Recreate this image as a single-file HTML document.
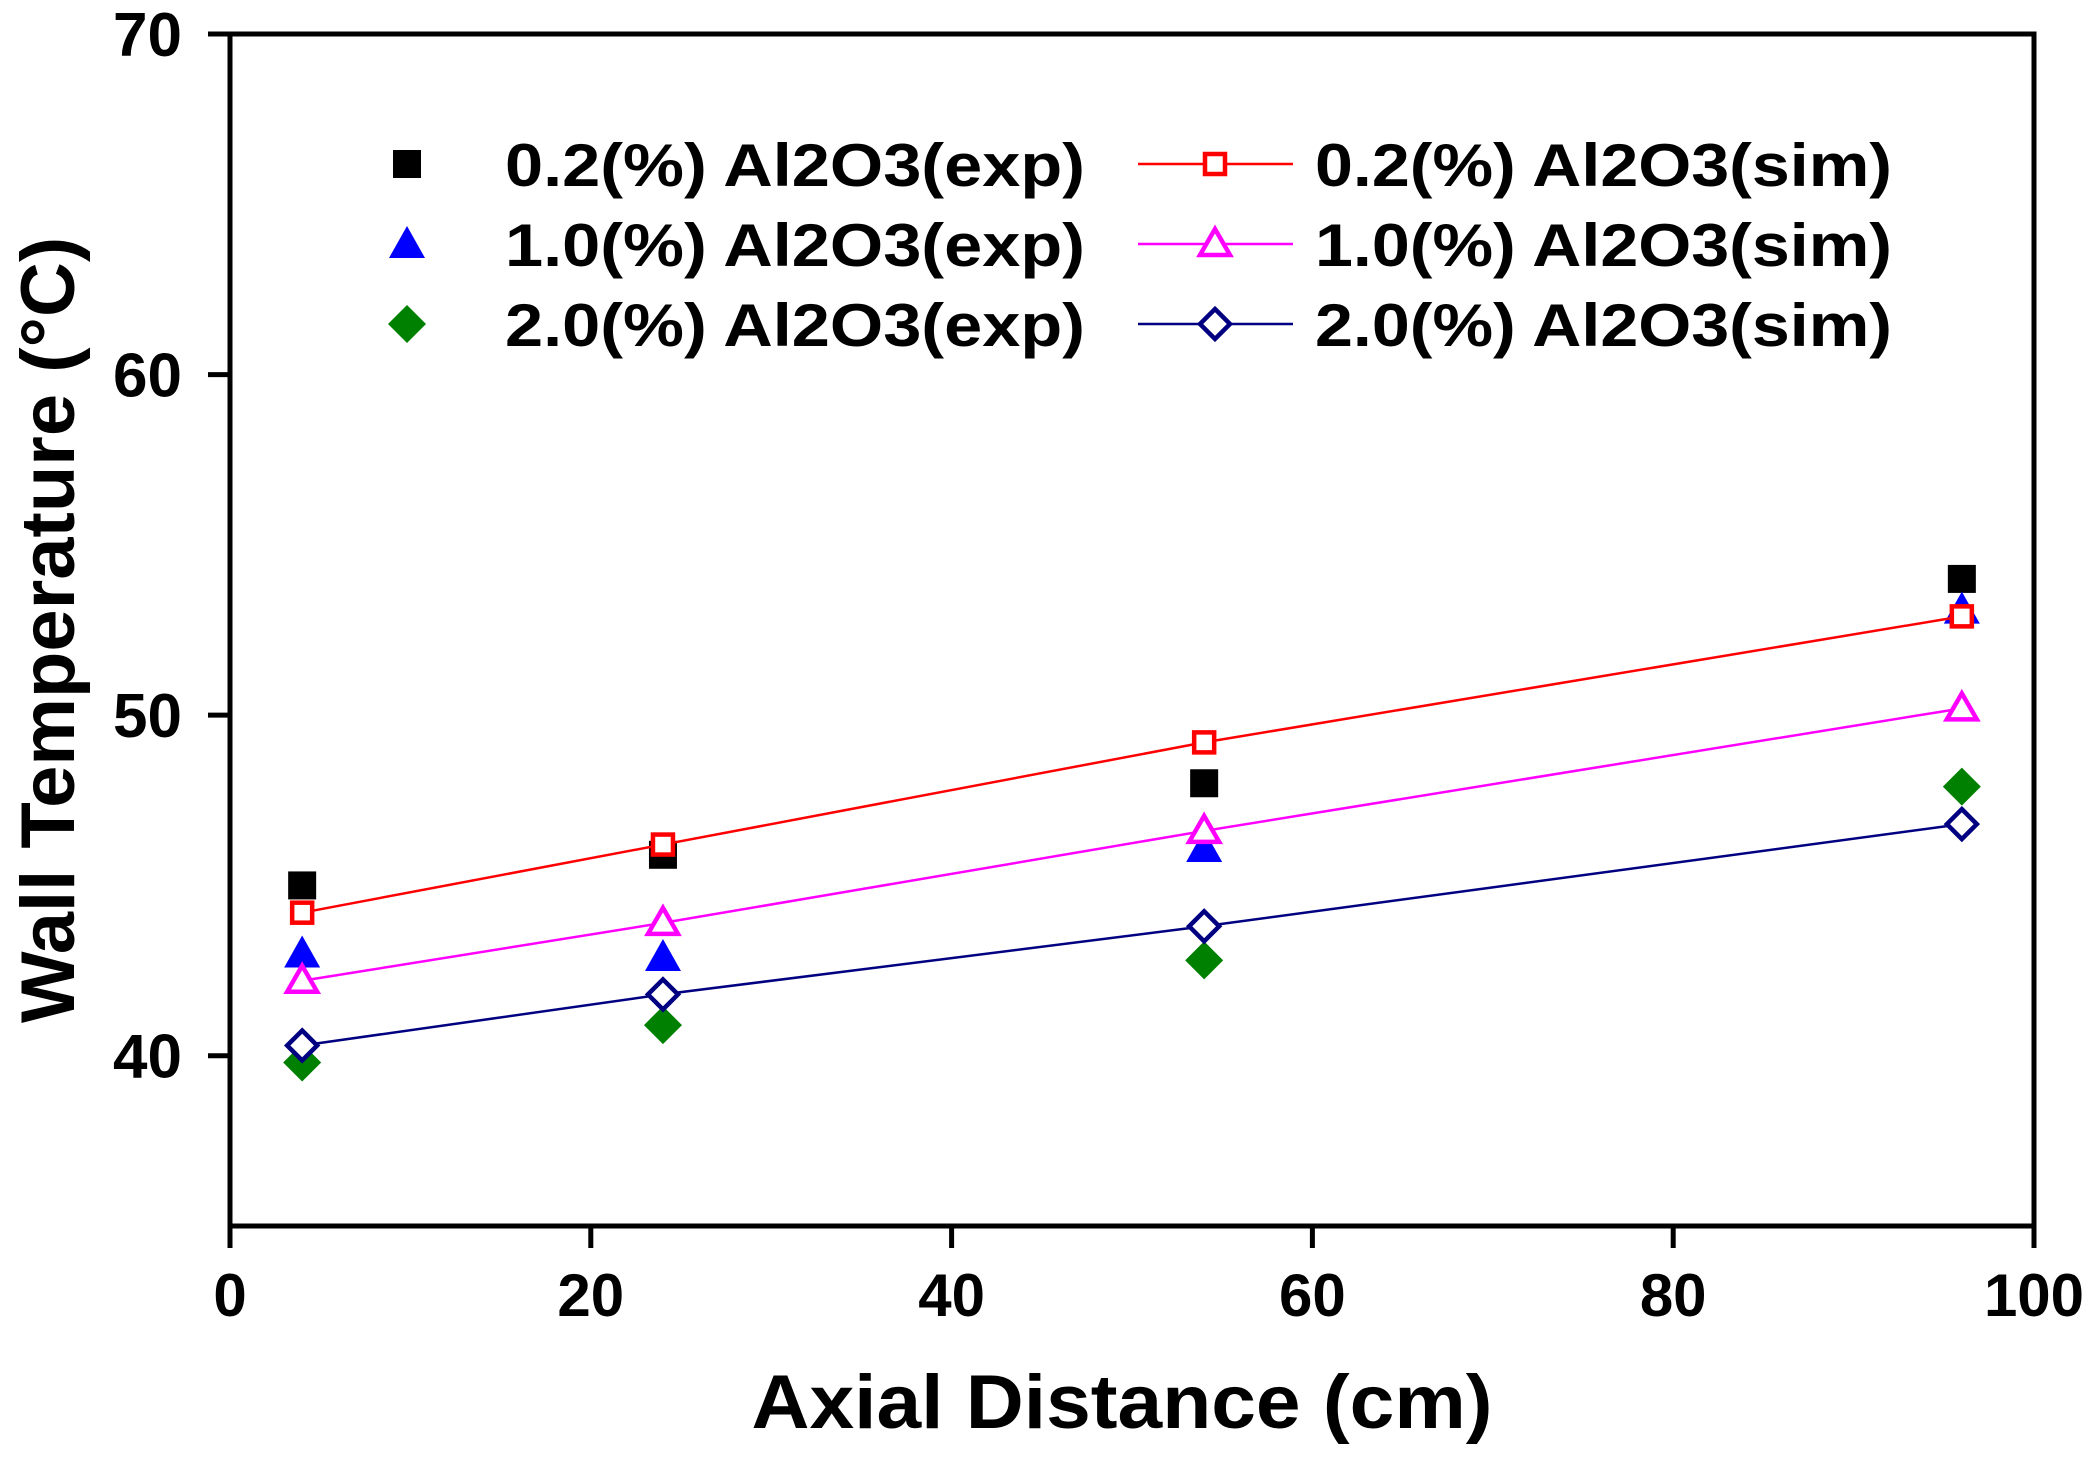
<!DOCTYPE html>
<html><head><meta charset="utf-8"><style>
html,body{margin:0;padding:0;background:#fff;}
svg text{font-family:"Liberation Sans",Arial,sans-serif;font-weight:bold;fill:#000;}
</style></head><body>
<svg id="chart" width="2094" height="1461" viewBox="0 0 2094 1461" xmlns="http://www.w3.org/2000/svg">
<g id="marks"></g>
<g id="axes"></g>
<g id="legend"></g>
</svg>
<script>
const xPositions = [4, 24, 54, 96];
const exp02 = [45.0, 45.9, 48.0, 54.0];
const exp10 = [43.0, 42.9, 46.1, 53.1];
const exp20 = [39.8, 40.9, 42.8, 47.9];
const sim02 = [44.2, 46.2, 49.2, 52.9];
const sim10 = [42.2, 43.9, 46.6, 50.2];
const sim20 = [40.3, 41.8, 43.8, 46.8];
const xTicks = [0, 20, 40, 60, 80, 100];
const yTicks = [40, 50, 60, 70];
const legendLabelsExp = ["0.2(%) Al2O3(exp)", "1.0(%) Al2O3(exp)", "2.0(%) Al2O3(exp)"];
const legendLabelsSim = ["0.2(%) Al2O3(sim)", "1.0(%) Al2O3(sim)", "2.0(%) Al2O3(sim)"];

const L=230,R=2034,T=34,B=1226,X0=0,X1=100,Y0=35,Y1=70;
const sx=v=>L+(v-X0)/(X1-X0)*(R-L);
const sy=v=>B-(v-Y0)/(Y1-Y0)*(B-T);
const NS="http://www.w3.org/2000/svg";
function mk(tag,attrs,parent){const e=document.createElementNS(NS,tag);for(const k in attrs)e.setAttribute(k,attrs[k]);parent.appendChild(e);return e;}
const marks=document.getElementById('marks'),axes=document.getElementById('axes'),legend=document.getElementById('legend');

function marker(type,cx,cy,color,filled,parent,name){
  let e;const s=14;
  if(type==='square') e=mk('rect',{x:cx-s,y:cy-s,width:2*s,height:2*s},parent);
  else if(type==='tri') e=mk('polygon',{points:`${cx},${cy-18} ${cx+18},${cy+14} ${cx-18},${cy+14}`},parent);
  else e=mk('polygon',{points:`${cx},${cy-19} ${cx+19},${cy} ${cx},${cy+19} ${cx-19},${cy}`},parent);
  if(filled){e.setAttribute('fill',color);}
  else{e.setAttribute('fill','#fff');e.setAttribute('stroke',color);e.setAttribute('stroke-width','4.5');
    if(type==='square'){e.setAttribute('x',cx-10);e.setAttribute('y',cy-10);e.setAttribute('width',20);e.setAttribute('height',20);}
    if(type==='diamond'){e.setAttribute('points',`${cx},${cy-15} ${cx+15},${cy} ${cx},${cy+15} ${cx-15},${cy}`);}
    if(type==='tri'){e.setAttribute('points',`${cx},${cy-15} ${cx+15},${cy+11} ${cx-15},${cy+11}`);}
  }
  
  
  return e;
}

const sims=[[sim02,'#ff0000','square','sim-0-2'],[sim10,'#ff00ff','tri','sim-1-0'],[sim20,'#000080','diamond','sim-2-0']];
const exps=[[exp02,'#000000','square','exp-0-2'],[exp10,'#0000ff','tri','exp-1-0'],[exp20,'#008000','diamond','exp-2-0']];
exps.forEach(([arr,c,t,n])=>{arr.forEach((v,i)=>{marker(t,sx(xPositions[i]),sy(v),c,true,marks,n+'-point');});});
sims.forEach(([arr,c,t,n])=>{
  const pl=mk('polyline',{points:arr.map((v,i)=>sx(xPositions[i])+','+sy(v)).join(' '),fill:'none',stroke:c,'stroke-width':2.5},marks);
  
  
  arr.forEach((v,i)=>{marker(t,sx(xPositions[i]),sy(v),c,false,marks,n+'-point');});
});

const frame=mk('rect',{x:L,y:T,width:R-L,height:B-T,fill:'none',stroke:'#000','stroke-width':5},axes);


xTicks.forEach(v=>{
  const x=sx(v);
  const tk=mk('line',{x1:x,y1:B,x2:x,y2:B+22,stroke:'#000','stroke-width':5},axes);
  
  
  const tx=mk('text',{x:x,y:1316,'text-anchor':'middle','font-size':60},axes);
  tx.textContent=v;
  
  
});
yTicks.forEach(v=>{
  const y=sy(v);
  const tk=mk('line',{x1:L-22,y1:y,x2:L,y2:y,stroke:'#000','stroke-width':5},axes);
  
  
  const tx=mk('text',{x:182,y:y+22,'text-anchor':'end','font-size':62},axes);
  tx.textContent=v;
  
  
});
const xt=mk('text',{x:1122,y:1428,'text-anchor':'middle','font-size':76,textLength:741,lengthAdjust:'spacingAndGlyphs'},axes);
xt.textContent='Axial Distance (cm)';


const yt=mk('text',{x:0,y:0,'text-anchor':'middle','font-size':76,transform:'translate(74,630) rotate(-90)'},axes);
yt.textContent='Wall Temperature (°C)';



const rows=[164,244,324];
rows.forEach((y,i)=>{
  const [,c,t,n]=exps[i];
  marker(t,407,y,c,true,legend,'legend-'+n+'-marker');
  const tx=mk('text',{x:505,y:y+22,'font-size':60,textLength:580,lengthAdjust:'spacingAndGlyphs'},legend);
  tx.textContent=legendLabelsExp[i];
  
  
  const [,c2,t2,n2]=sims[i];
  const ln=mk('line',{x1:1138,y1:y,x2:1293,y2:y,stroke:c2,'stroke-width':2.5},legend);
  
  
  marker(t2,1215,y,c2,false,legend,'legend-'+n2+'-marker');
  const tx2=mk('text',{x:1315,y:y+22,'font-size':60,textLength:577,lengthAdjust:'spacingAndGlyphs'},legend);
  tx2.textContent=legendLabelsSim[i];
  
  
});
</script>
</body></html>
